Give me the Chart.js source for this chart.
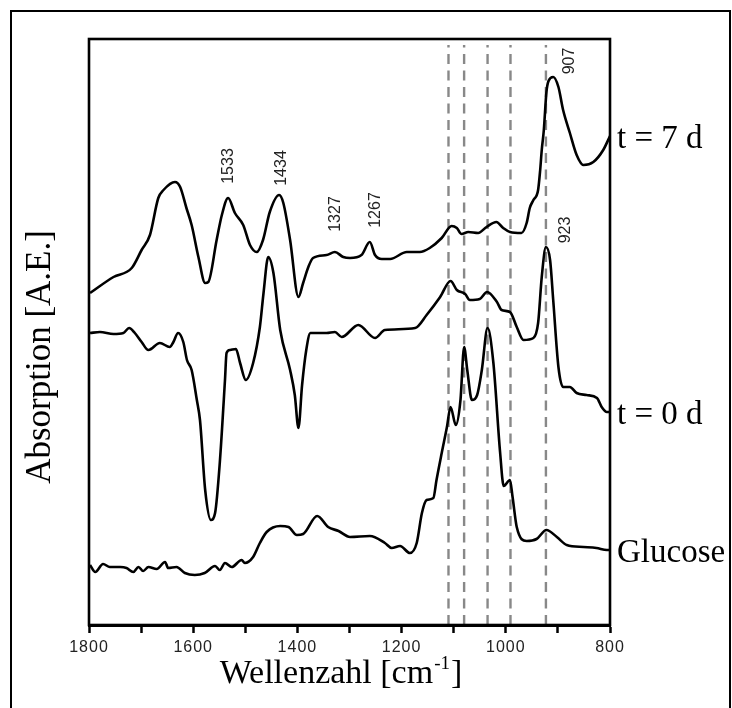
<!DOCTYPE html>
<html lang="de">
<head>
<meta charset="UTF-8">
<title>IR-Spektren</title>
<script src="https://cdn.jsdelivr.net/npm/chart.js@4.4.0/dist/chart.umd.min.js"></script>
<style>
  html, body { margin: 0; padding: 0; background: #fff; }
  canvas { display: block; }
</style>
</head>
<body>
<canvas id="spectra" width="732" height="708"></canvas>
<script>
// wavenumbers in cm-1, absorption in arbitrary units (curves are offset)
const wn7d = [1798,1753,1718,1699,1683,1667,1657,1635,1625,1613,1603,1590,1577,1571,1555,1545,1533,1520,1504,1491,1478,1466,1453,1435,1427,1414,1398,1389,1379,1370,1344,1328,1312,1299,1277,1261,1251,1238,1222,1190,1165,1146,1123,1104,1094,1085,1072,1053,1037,1018,1005,992,970,960,954,947,938,934,931,927,922,918,909,899,890,877,864,851,832,813,800];
const abs7d = [332,348,357,375,390,427,435,443,438,417,400,368,342,343,385,410,427,412,400,380,373,385,413,430,422,385,328,342,358,367,370,373,368,367,370,383,370,366,366,373,373,377,387,399,397,391,393,392,398,403,397,393,392,402,417,425,435,455,475,495,533,544,548,538,515,492,470,460,463,475,489];

const wn0d = [1798,1779,1753,1734,1723,1712,1699,1686,1664,1645,1638,1629,1619,1612,1603,1593,1587,1577,1566,1558,1549,1539,1536,1529,1518,1510,1499,1485,1472,1465,1456,1446,1433,1414,1405,1398,1391,1383,1375,1344,1328,1315,1283,1251,1232,1174,1152,1126,1106,1094,1078,1069,1050,1036,1017,1008,992,979,966,947,938,931,923,915,909,899,890,877,864,845,825,816,806,800];
const abs0d = [292,293,291,292,297,292,283,275,282,278,283,292,283,265,255,225,205,135,105,112,162,245,272,275,276,262,245,262,298,332,368,352,295,255,230,197,240,275,292,292,293,288,300,287,295,297,310,328,344,335,331,325,326,333,323,315,313,298,285,287,302,348,378,365,325,258,238,238,232,230,227,218,213,213];

const wnGlc = [1798,1788,1773,1760,1740,1728,1715,1705,1696,1686,1670,1654,1648,1632,1616,1597,1578,1558,1549,1539,1526,1507,1501,1485,1472,1459,1433,1417,1401,1389,1362,1341,1321,1299,1261,1232,1219,1203,1184,1171,1161,1152,1139,1133,1123,1113,1106,1096,1087,1080,1074,1065,1055,1046,1035,1024,1011,1004,992,987,979,960,941,922,902,883,851,826,806,800];
const absGlc = [60,53,61,58,58,57,53,58,54,58,56,63,57,58,52,50,52,59,55,62,58,65,62,68,82,93,99,98,90,91,109,98,94,88,89,82,77,79,72,82,112,125,127,145,172,198,218,200,225,278,255,225,230,255,297,263,173,139,145,128,98,84,86,95,88,80,78,77,75,75];

const seriesNames = ['t = 7 d', 't = 0 d', 'Glucose'];

// dashed reference lines (cm-1)
const markerWn = [1110, 1080, 1035, 991, 923];

// rotated peak labels
const peakText = ['1533', '1434', '1327', '1267', '907', '923'];
const peakWn = [1533, 1430, 1327, 1250, 877, 886];
const peakAbs = [459, 457, 411, 415, 564, 395];

const yMin = 0, yMax = 586;

function toPoints(xs, ys) {
  return xs.map((x, i) => ({ x: x, y: ys[i] }));
}

const curves = [
  toPoints(wn7d, abs7d),
  toPoints(wn0d, abs0d),
  toPoints(wnGlc, absGlc)
];

const datasets = curves.map((pts, i) => ({
  label: seriesNames[i],
  data: pts,
  borderColor: '#000',
  borderWidth: 2.6,
  pointRadius: 0,
  cubicInterpolationMode: 'monotone',
  fill: false,
  order: 1
}));

markerWn.forEach(w => {
  datasets.push({
    label: 'marker ' + w,
    data: [{ x: w, y: yMin }, { x: w, y: yMax - 6 }],
    borderColor: '#888',
    borderWidth: 2.4,
    borderDash: [10, 6.5],
    pointRadius: 0,
    fill: false,
    order: 2
  });
});

const decor = {
  id: 'decor',
  beforeDraw(chart) {
    const ctx = chart.ctx;
    ctx.save();
    ctx.fillStyle = '#fff';
    ctx.fillRect(0, 0, chart.width, chart.height);
    ctx.strokeStyle = '#000';
    ctx.lineWidth = 2;
    ctx.strokeRect(11, 11, 719, 730);
    ctx.restore();
    ctx.letterSpacing = '1px';
  },
  afterDraw(chart) {
    const ctx = chart.ctx;
    const a = chart.chartArea;
    const xs = chart.scales.x, ys = chart.scales.y;
    ctx.save();
    ctx.letterSpacing = '0px';

    // plot frame
    ctx.strokeStyle = '#000';
    ctx.lineWidth = 2.6;
    ctx.strokeRect(a.left, a.top, a.right - a.left, a.bottom - a.top);

    ctx.fillStyle = '#000';

    // y title
    ctx.save();
    ctx.translate(50, 357);
    ctx.rotate(-Math.PI / 2);
    ctx.font = '35px "Liberation Serif"';
    ctx.textAlign = 'center';
    ctx.textBaseline = 'alphabetic';
    ctx.fillText('Absorption [A.E.]', 0, 0);
    ctx.restore();

    // x title with superscript
    const main = '34px "Liberation Serif"', sup = '19px "Liberation Serif"';
    const t1 = 'Wellenzahl [cm', t2 = '-1', t3 = ']';
    ctx.font = main;
    const w1 = ctx.measureText(t1).width, w3 = ctx.measureText(t3).width;
    ctx.font = sup;
    const w2 = ctx.measureText(t2).width;
    const x0 = 340 - (w1 + w2 + w3) / 2;
    const base = 683;
    ctx.textAlign = 'left';
    ctx.textBaseline = 'alphabetic';
    ctx.font = main;
    ctx.fillText(t1, x0, base);
    ctx.font = sup;
    ctx.fillText(t2, x0 + w1 + 1, base - 14);
    ctx.font = main;
    ctx.fillText(t3, x0 + w1 + w2 + 2, base);

    // series names at the right end of each curve
    ctx.font = '33px "Liberation Serif"';
    ctx.textBaseline = 'middle';
    curves.forEach((pts, i) => {
      const last = pts[pts.length - 1];
      ctx.fillText(seriesNames[i], a.right + 7, ys.getPixelForValue(last.y) + 3);
    });

    // peak labels
    ctx.font = '16px "Liberation Sans"';
    ctx.fillStyle = '#222';
    ctx.textAlign = 'center';
    peakText.forEach((t, i) => {
      ctx.save();
      ctx.translate(xs.getPixelForValue(peakWn[i]), ys.getPixelForValue(peakAbs[i]));
      ctx.rotate(-Math.PI / 2);
      ctx.fillText(t, 0, 0);
      ctx.restore();
    });
    ctx.restore();
  }
};

new Chart(document.getElementById('spectra').getContext('2d'), {
  type: 'line',
  data: { datasets: datasets },
  options: {
    responsive: false,
    animation: false,
    layout: { padding: { left: 89, right: 122, top: 39, bottom: 0 } },
    plugins: { legend: { display: false }, tooltip: { enabled: false } },
    scales: {
      x: {
        type: 'linear',
        reverse: true,
        min: 800,
        max: 1800,
        afterFit: s => { s.height = 83; },
        border: { display: true, color: '#000', width: 3 },
        grid: { drawOnChartArea: false, drawTicks: true, tickLength: 8, tickWidth: 2.5, tickColor: '#000' },
        ticks: {
          stepSize: 100,
          autoSkip: false,
          maxRotation: 0,
          padding: 5,
          color: '#222',
          font: { family: 'Liberation Sans', size: 16 },
          callback: v => (v % 200 === 0 ? String(v) : '')
        }
      },
      y: {
        display: false,
        min: yMin,
        max: yMax
      }
    }
  },
  plugins: [decor]
});
</script>
</body>
</html>
